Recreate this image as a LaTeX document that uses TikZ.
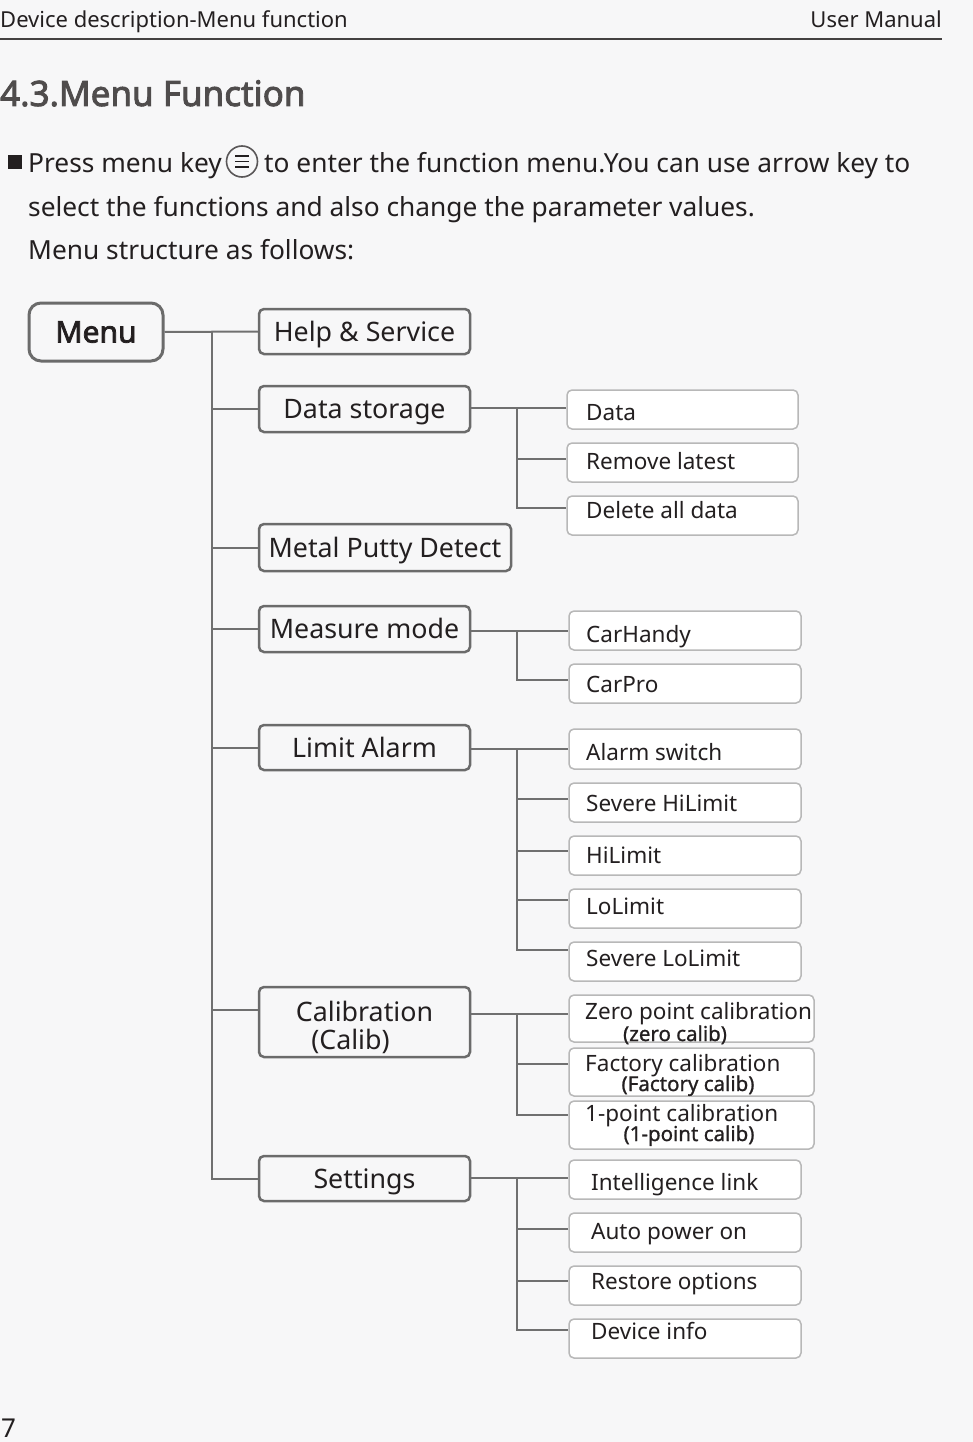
\documentclass[tikz,border=0pt]{standalone}
\usepackage{fontspec}
\setmainfont{Noto Sans}[AutoFakeBold=2.5]
\newfontfamily\medf{Noto Sans}[FakeBold=1]
\definecolor{bgc}{HTML}{F7F7F8}
\definecolor{txt}{HTML}{231F20}
\definecolor{lnc}{HTML}{707070}
\definecolor{bdA}{HTML}{6B6B6B}
\definecolor{bdB}{HTML}{B8B8B8}
\newcommand\fs[1]{\fontsize{#1}{#1}\selectfont}
\newcommand\lbox[9]{%
  \node[l2box, minimum width=#4pt, minimum height=#5pt] (#1) at (#2,#3) {};
  \node[l2text] (#1t) at (#7,#8) {#9};
  \coordinate (#1in) at ([yshift=#6pt]#1.west);
}
\begin{document}
\begin{tikzpicture}[x=1pt,y=-1pt,
  every node/.style={text=txt},
  plain/.style={inner sep=0pt, font=\fs{26.3}},
  l1box/.style={draw=bdA, line width=2.5pt, rounded corners=5pt, inner sep=0pt, text height=19pt, text depth=0pt, font=\fs{26.8}},
  menubox/.style={draw=bdA, line width=3pt, rounded corners=12pt, inner sep=0pt, font=\bfseries\fs{30}},
  l2box/.style={draw=bdB, line width=1.5pt, fill=white, rounded corners=5pt, inner sep=0pt},
  l2text/.style={anchor=west, inner sep=0pt, text height=16pt, text depth=0pt, font=\fs{22.5}},
  subtext/.style={anchor=base, inner sep=0pt, font=\medf\fs{20.5}},
  conn/.style={draw=lnc, line width=2pt}
]
\fill[bgc] (0,0) rectangle (973,1442);
\useasboundingbox (0,0) rectangle (973,1442);

% header
\node[anchor=base west, inner sep=0pt, font=\fs{22}] (hl) at (0,28) {Device description-Menu function};
\node[anchor=base east, inner sep=0pt, font=\fs{22}] (hr) at (942,28) {User Manual};
\coordinate (rl) at (0,39);
\coordinate (rr) at (942,39);
\draw[line width=2pt, draw=txt!85] (rl) -- (rr);

% title
\node[anchor=base west, inner sep=0pt, font=\bfseries\fs{35}, text=txt!80] (title) at (0,106) {4.3.Menu Function};

% intro text
\fill[txt] (8,155) rectangle (22,169);
\node[plain, anchor=base west] (p1) at (28,173) {Press menu key};
\node[circle, draw=txt!75, line width=1.6pt, minimum size=31pt, inner sep=0pt] (key) at (242,161.5) {};
\draw[txt, line width=1.8pt] ([xshift=-7pt,yshift=5.5pt]key.center) -- ([xshift=7pt,yshift=5.5pt]key.center);
\draw[txt, line width=1.8pt] ([xshift=-7pt]key.center) -- ([xshift=7pt]key.center);
\draw[txt, line width=1.8pt] ([xshift=-7pt,yshift=-5.5pt]key.center) -- ([xshift=7pt,yshift=-5.5pt]key.center);
\node[plain, anchor=base west] (p2) at (264,173) {to enter the function menu.You can use arrow key to};
\node[plain, anchor=base west] (p3) at (28,216) {select the functions and also change the parameter values.};
\node[plain, anchor=base west] (p4) at (28,259) {Menu structure as follows:};

% level 0 and 1
\node[menubox, minimum width=134pt, minimum height=58pt] (menu) at (96,332) {Menu};
\node[l1box, minimum width=211pt, minimum height=45pt] (hs) at (364.5,331.5) {Help \& Service};
\node[l1box, minimum width=211pt, minimum height=46pt] (ds) at (364.5,409) {Data storage};
\node[l1box, minimum width=252pt, minimum height=47pt] (mp) at (385,547.5) {Metal Putty Detect};
\node[l1box, minimum width=211pt, minimum height=46pt] (mm) at (364.5,629) {Measure mode};
\node[l1box, minimum width=211pt, minimum height=45pt] (la) at (364.5,747.5) {Limit Alarm};
\node[draw=bdA, line width=2.5pt, rounded corners=5pt, inner sep=0pt, minimum width=211pt, minimum height=70pt] (cal) at (364.5,1022) {};
\node[align=center, inner sep=0pt, font=\fs{26.8}] (calt) at (364.5,1027.5) {Calibration\\[1pt](Calib)\hspace*{28pt}};
\node[l1box, minimum width=211pt, minimum height=45pt] (set) at (364.5,1178.5) {Settings};

\coordinate (tr) at (211.5,332);
\coordinate (calin) at ([yshift=12pt]cal.west);
\draw[conn] (menu.east) -- (hs.west);
\draw[conn] (tr) |- (set.west);
\draw[conn] (tr |- ds.west) -- (ds.west);
\draw[conn] (tr |- mp.west) -- (mp.west);
\draw[conn] (tr |- mm.west) -- (mm.west);
\draw[conn] (tr |- la.west) -- (la.west);
\draw[conn] (tr |- calin) -- (calin);

% level 2: data storage
\lbox{d1}{682.5}{409.5}{231}{39}{1.5}{586}{412.5}{Data}
\lbox{d2}{682.5}{462.5}{231}{39}{3.5}{586}{461.5}{Remove latest}
\lbox{d3}{682.5}{515.5}{231}{39}{7.5}{586}{510.5}{Delete all data}
\coordinate (b1) at (517,408);
\draw[conn] (ds.east |- d1in) -- (d1in);
\draw[conn] (b1) |- (d3in);
\draw[conn] (b1 |- d2in) -- (d2in);

% measure mode
\lbox{c1}{685}{630.5}{232}{39}{-0.5}{586}{634}{CarHandy}
\lbox{c2}{685}{683.5}{232}{39}{3.5}{586}{684}{CarPro}
\coordinate (b2) at (517,631);
\draw[conn] (mm.east |- c1in) -- (c1in);
\draw[conn] (b2) |- (c2in);

% limit alarm
\lbox{a1}{685}{749}{232}{40}{0}{586}{752}{Alarm switch}
\lbox{a2}{685}{802.5}{232}{39}{3.5}{586}{803}{Severe HiLimit}
\lbox{a3}{685}{855.5}{232}{39}{4.5}{586}{855}{HiLimit}
\lbox{a4}{685}{908.5}{232}{39}{8.5}{586}{906.5}{LoLimit}
\lbox{a5}{685}{961.5}{232}{39}{11.5}{586}{958.5}{Severe LoLimit}
\coordinate (b3) at (517,749);
\draw[conn] (la.east |- a1in) -- (a1in);
\draw[conn] (b3) |- (a5in);
\draw[conn] (b3 |- a2in) -- (a2in);
\draw[conn] (b3 |- a3in) -- (a3in);
\draw[conn] (b3 |- a4in) -- (a4in);

% calibration
\lbox{z1}{691.5}{1018.5}{245}{47}{4.5}{585}{1011}{Zero point calibration}
\lbox{z2}{691.5}{1072}{245}{48}{8}{585}{1063.5}{Factory calibration}
\lbox{z3}{691.5}{1125}{245}{48}{10}{585}{1113.5}{1-point calibration}
\node[subtext] (z1s) at (675,1041) {(zero calib)};
\node[subtext] (z2s) at (688,1091) {(Factory calib)};
\node[subtext] (z3s) at (689,1141) {(1-point calib)};
\coordinate (b4) at (517,1014);
\draw[conn] (cal.east |- z1in) -- (z1in);
\draw[conn] (b4) |- (z3in);
\draw[conn] (b4 |- z2in) -- (z2in);

% settings
\lbox{s1}{685}{1179.5}{232}{39}{1.5}{591}{1182.5}{Intelligence link}
\lbox{s2}{685}{1232.5}{232}{39}{3.5}{591}{1231.5}{Auto power on}
\lbox{s3}{685}{1285.5}{232}{39}{4.5}{591}{1281.5}{Restore options}
\lbox{s4}{685}{1338.5}{232}{39}{8.5}{591}{1331.5}{Device info}
\coordinate (b5) at (517,1178);
\draw[conn] (set.east |- s1in) -- (s1in);
\draw[conn] (b5) |- (s4in);
\draw[conn] (b5 |- s2in) -- (s2in);
\draw[conn] (b5 |- s3in) -- (s3in);

% page number
\node[anchor=base west, inner sep=0pt, font=\fs{26}] (pg) at (1,1437) {7};
\end{tikzpicture}
\end{document}
